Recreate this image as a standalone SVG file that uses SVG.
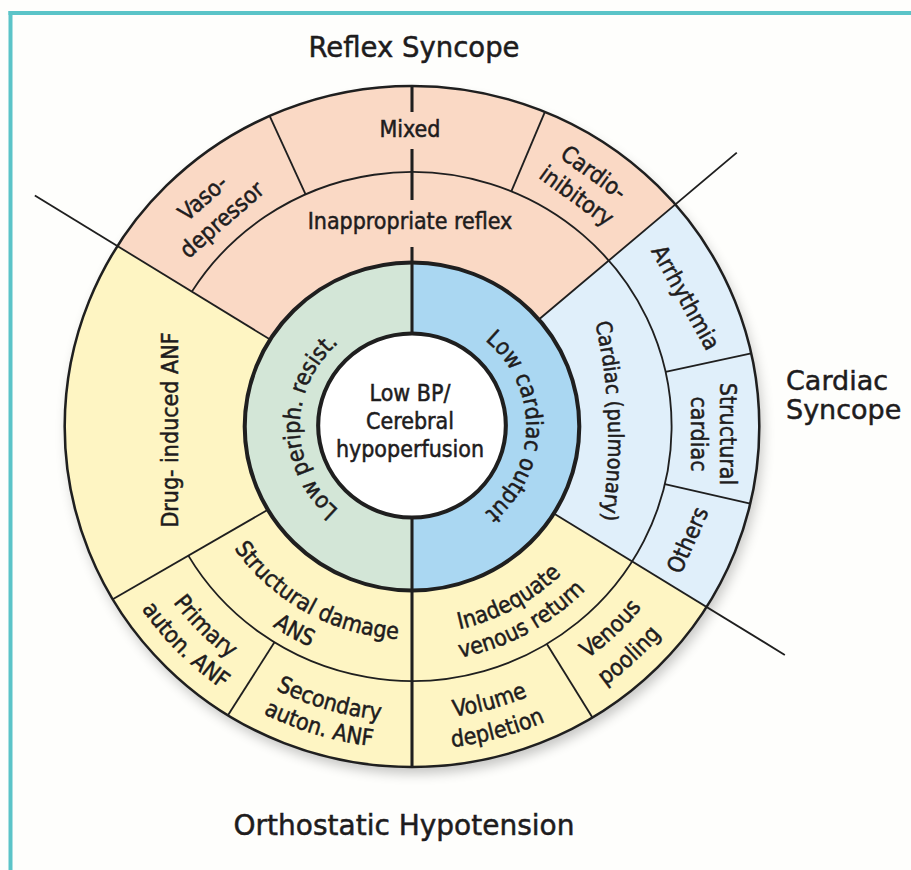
<svg xmlns="http://www.w3.org/2000/svg" width="911" height="870" viewBox="0 0 911 870">
<defs>
<style>
.lbl{font-family:"DejaVu Sans Condensed","DejaVu Sans",sans-serif;font-stretch:condensed;font-size:23px;fill:#1e1c1d;stroke:#1e1c1d;stroke-width:0.5px;}
.ttl{font-family:"DejaVu Sans","Liberation Sans",sans-serif;font-size:27.5px;fill:#1e1c1d;stroke:#1e1c1d;stroke-width:0.5px;}
.ln{stroke:#1f1f1f;stroke-width:1.8;fill:none;}
.thk{stroke:#1f1f1f;stroke-width:3;fill:none;}
.ring{fill:none;stroke:#1f1f1f;}
</style>
<filter id="sh" x="-20%" y="-20%" width="140%" height="140%"><feGaussianBlur stdDeviation="6"/></filter>
<path id="p-sd" d="M202.65,483.41 A217.26,213 0 0 0 470.05,631.75"/>
<path id="p-ans" d="M199.32,549.32 A246.84,242 0 0 0 414.15,668.49"/>
<path id="p-inad" d="M371.52,630.67 A212.16,208 0 0 0 610.07,501.05"/>
<path id="p-venret" d="M366.07,658.16 A240.72,236 0 0 0 636.74,511.08"/>
<path id="p-prim" d="M122.67,499.87 A298.86,293 0 0 0 332.14,708.83"/>
<path id="p-aut1" d="M94.04,507.13 A328.44,322 0 0 0 324.24,736.78"/>
<path id="p-sec" d="M193.73,629.58 A300.9,295 0 0 0 482.23,713.36"/>
<path id="p-aut2" d="M171.78,646.10 A328.44,322 0 0 0 485.90,740.26"/>
<path id="p-vol" d="M337.17,710.15 A298.86,293 0 0 0 625.17,631.86"/>
<path id="p-dep" d="M329.50,739.20 A329.46,323 0 0 0 647.00,652.89"/>
<path id="p-ven" d="M483.31,706.92 A294.78,289 0 0 0 695.37,506.15"/>
<path id="p-pool" d="M485.67,739.28 A327.42,321 0 0 0 725.11,520.36"/>
<path id="p-lco" d="M451.07,321.25 A114.24,112 0 0 1 451.07,531.75"/>
<path id="p-lpr" d="M373.63,529.87 A112.2,110 0 0 1 373.63,323.13"/>
<path id="p-cp" d="M594,318 Q618.5,418.5 601,525"/>
</defs>

<rect width="911" height="870" fill="#fefefc"/>
<rect x="8.5" y="11" width="902.5" height="4" fill="#5bc4c8"/>
<rect x="8.5" y="11" width="4" height="859" fill="#5bc4c8"/>

<g id="disk" transform="translate(412,426.5) scale(1.02,1)">
  <circle cx="3" cy="7" r="340.5" fill="#000" opacity="0.22" filter="url(#sh)"/>
  <circle r="340.5" fill="#fef5c3"/>
  <path id="reflex-sector" d="M0,0 L-288.74,-180.43 A340.5,340.5 0 0 1 258.13,-222.04 Z" fill="#fad9c5"/>
  <path id="cardiac-sector" d="M0,0 L258.13,-222.04 A340.5,340.5 0 0 1 288.74,180.43 Z" fill="#e0effa"/>
  <circle r="164" fill="#d3e6d7"/>
  <path d="M0,-164 A164,164 0 0 1 0,164 Z" fill="#aad7f2"/>
  <circle cy="-1" r="92" fill="#ffffff"/>
</g>

<g id="connectors" transform="translate(412,426.5) scale(1.02,1)">
  <line class="ln" x1="164" x2="436" transform="rotate(212)"/>
  <line class="ln" x1="164" x2="431" transform="rotate(32)"/>
  <line class="ln" x1="164" x2="420" transform="rotate(-40.7)"/>
  <line class="ln" x1="254.5" x2="340.5" transform="rotate(-114.2)"/>
  <line class="ln" x1="254.5" x2="340.5" transform="rotate(-67.5)"/>
  <line class="ln" x1="254.5" x2="340.5" transform="rotate(-12.4)"/>
  <line class="ln" x1="254.5" x2="340.5" transform="rotate(13.1)"/>
  <line class="ln" x1="254.5" x2="340.5" transform="rotate(58.7)"/>
  <line class="ln" x1="254.5" x2="340.5" transform="rotate(122)"/>
  <line class="ln" x1="164" x2="340.5" transform="rotate(149.5)"/>
  <line class="thk" x1="0" y1="91" x2="0" y2="340.5"/>
  <line class="thk" x1="0" y1="-93" x2="0" y2="-179.5"/>
  <line class="thk" x1="0" y1="-226.5" x2="0" y2="-277.5"/>
  <line class="thk" x1="0" y1="-314.5" x2="0" y2="-340.5"/>
  <path class="ln" d="M-215.82,-134.86 A254.5,254.5 0 1 1 -219.28,129.16"/>
  <circle class="ring" r="340.5" stroke-width="2.5"/>
  <circle class="ring" r="164" stroke-width="4"/>
  <circle class="ring" cy="-1" r="92" stroke-width="4"/>
</g>

<g id="titles">
  <text class="ttl" x="414" y="57" text-anchor="middle">Reflex Syncope</text>
  <text class="ttl" x="404" y="835" text-anchor="middle" style="font-size:28px">Orthostatic Hypotension</text>
  <text class="ttl" style="font-size:27px"><tspan x="786" y="390">Cardiac</tspan><tspan x="786" y="419">Syncope</tspan></text>
</g>

<g id="center">
  <text class="lbl" text-anchor="middle"><tspan x="410" y="401">Low BP/</tspan><tspan x="410" y="429">Cerebral</tspan><tspan x="410" y="457">hypoperfusion</tspan></text>
</g>
<g id="low-periph"><text class="lbl"><textPath href="#p-lpr" startOffset="50%" text-anchor="middle">Low periph. resist.</textPath></text></g>
<g id="low-cardiac"><text class="lbl"><textPath href="#p-lco" startOffset="50%" text-anchor="middle">Low cardiac output</textPath></text></g>

<g id="mixed"><text class="lbl" x="410" y="137" text-anchor="middle">Mixed</text></g>
<g id="inappropriate"><text class="lbl" x="410" y="229" text-anchor="middle">Inappropriate reflex</text></g>
<g id="vaso"><text class="lbl" text-anchor="middle" transform="translate(212.5,209) rotate(-41)"><tspan x="0" y="-7">Vaso-</tspan><tspan x="0" y="22">depressor</tspan></text></g>
<g id="cardio"><text class="lbl" text-anchor="middle" transform="translate(585,184.5) rotate(36)"><tspan x="0" y="-7">Cardio-</tspan><tspan x="0" y="22">inibitory</tspan></text></g>

<g id="arrhythmia"><text class="lbl" text-anchor="middle" transform="translate(685,298) rotate(61)" y="7">Arrhythmia</text></g>
<g id="structural-cardiac"><text class="lbl" text-anchor="middle" transform="translate(712.5,434) rotate(90)"><tspan x="0" y="-7">Structural</tspan><tspan x="0" y="22">cardiac</tspan></text></g>
<g id="others"><text class="lbl" text-anchor="middle" transform="translate(687.5,540) rotate(-66)" y="8">Others</text></g>
<g id="cardiac-pulm"><text class="lbl" style="font-size:21.5px"><textPath href="#p-cp" startOffset="50%" text-anchor="middle">Cardiac (pulmonary)</textPath></text></g>

<g id="drug"><text class="lbl" text-anchor="middle" transform="translate(169,430) rotate(-90)" y="9">Drug- induced ANF</text></g>
<g id="structural-damage"><text class="lbl"><textPath href="#p-sd" startOffset="50%" text-anchor="middle">Structural damage</textPath></text><text class="lbl"><textPath href="#p-ans" startOffset="50%" text-anchor="middle">ANS</textPath></text></g>
<g id="inadequate"><text class="lbl"><textPath href="#p-inad" startOffset="50%" text-anchor="middle">Inadequate</textPath></text><text class="lbl"><textPath href="#p-venret" startOffset="50%" text-anchor="middle">venous return</textPath></text></g>
<g id="primary"><text class="lbl"><textPath href="#p-prim" startOffset="50%" text-anchor="middle">Primary</textPath></text><text class="lbl"><textPath href="#p-aut1" startOffset="50%" text-anchor="middle">auton. ANF</textPath></text></g>
<g id="secondary"><text class="lbl"><textPath href="#p-sec" startOffset="50%" text-anchor="middle">Secondary</textPath></text><text class="lbl"><textPath href="#p-aut2" startOffset="50%" text-anchor="middle">auton. ANF</textPath></text></g>
<g id="volume"><text class="lbl"><textPath href="#p-vol" startOffset="50%" text-anchor="middle">Volume</textPath></text><text class="lbl"><textPath href="#p-dep" startOffset="50%" text-anchor="middle">depletion</textPath></text></g>
<g id="venous-pooling"><text class="lbl"><textPath href="#p-ven" startOffset="50%" text-anchor="middle">Venous</textPath></text><text class="lbl"><textPath href="#p-pool" startOffset="50%" text-anchor="middle">pooling</textPath></text></g>
</svg>
